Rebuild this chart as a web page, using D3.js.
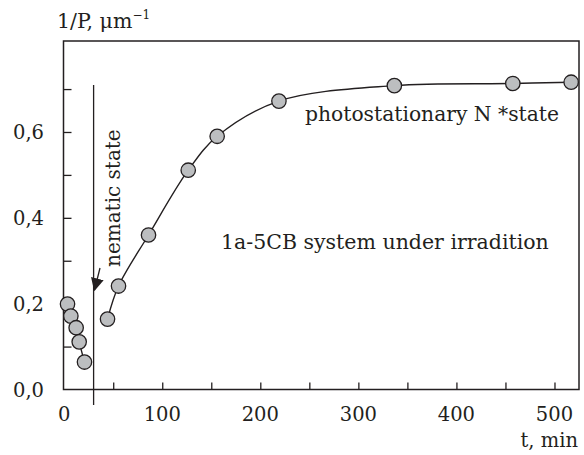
<!DOCTYPE html>
<html>
<head>
<script src="https://cdn.jsdelivr.net/npm/d3@7"></script>
<style>
  body { margin: 0; background: #fff; }
  text { font-family: "DejaVu Serif", serif; fill: #231f20; }
</style>
</head>
<body>
<div id="chart"></div>
<script>
// early points (before the nematic state) and points under irradiation
var timeEarly  = [3.4, 6.8, 12.2, 15.3, 20.7];
var valueEarly = [0.199, 0.171, 0.144, 0.111, 0.064];
var timeIrr  = [44.2, 55.4, 86, 126.5, 156, 219, 336.7, 457.5, 517];
var valueIrr = [0.164, 0.241, 0.360, 0.511, 0.590, 0.672, 0.708, 0.713, 0.716];

var xTicks = [0, 100, 200, 300, 400, 500];
var xMinor = [50, 100, 150, 200, 250, 300, 350, 400, 450, 500];
var yTicks = [0, 0.2, 0.4, 0.6];
var yMinor = [0.1, 0.2, 0.3, 0.4, 0.5, 0.6, 0.7];
var nematicTime = 30;

var W = 584, H = 455;
var pLeft = 63.5, pRight = 579, pTop = 41, pBottom = 389.5;

var x = d3.scaleLinear().domain([-0.7, 525]).range([pLeft, pRight]);
var y = d3.scaleLinear().domain([0, 0.812]).range([pBottom, pTop]);

var svg = d3.select("#chart").append("svg")
    .attr("width", W).attr("height", H);

var ink = "#231f20";

// inward ticks
svg.append("g")
    .attr("transform", "translate(0," + pBottom + ")")
    .call(d3.axisTop(x).tickValues(xMinor).tickSize(7).tickFormat(""))
    .call(function(g) { g.select(".domain").remove(); })
    .selectAll("line").attr("stroke", ink).attr("stroke-width", 1.3);

svg.append("g")
    .attr("transform", "translate(" + pLeft + ",0)")
    .call(d3.axisRight(y).tickValues(yMinor).tickSize(8).tickFormat(""))
    .call(function(g) { g.select(".domain").remove(); })
    .selectAll("line").attr("stroke", ink).attr("stroke-width", 1.3);

// frame
svg.append("rect")
    .attr("x", pLeft).attr("y", pTop)
    .attr("width", pRight - pLeft).attr("height", pBottom - pTop)
    .attr("fill", "none").attr("stroke", ink).attr("stroke-width", 1.5);

// tick labels
svg.selectAll(".xl").data(xTicks).enter().append("text")
    .attr("x", function(d) { return x(d); })
    .attr("y", 421)
    .attr("text-anchor", "middle")
    .attr("font-size", 19.5)
    .text(function(d) { return d; });

svg.selectAll(".yl").data(yTicks).enter().append("text")
    .attr("x", 44)
    .attr("y", function(d) { return y(d) + 7; })
    .attr("text-anchor", "end")
    .attr("font-size", 19.5)
    .text(function(d) { return d3.format(".1f")(d).replace(".", ","); });

// axis titles
var yt = svg.append("text").attr("x", 57).attr("y", 28).attr("font-size", 20.5);
yt.append("tspan").text("1/P, \u03bcm");
yt.append("tspan").attr("dy", -9).attr("font-size", 12).text("\u22121");

svg.append("text").attr("x", 578).attr("y", 447)
    .attr("text-anchor", "end").attr("font-size", 19.5)
    .text("t, min");

// nematic marker
svg.append("line")
    .attr("x1", x(nematicTime)).attr("x2", x(nematicTime))
    .attr("y1", 85).attr("y2", 405)
    .attr("stroke", ink).attr("stroke-width", 1.3);

svg.append("text")
    .attr("transform", "translate(120,267) rotate(-90)")
    .attr("font-size", 20)
    .text("nematic state");

svg.append("defs").append("marker")
    .attr("id", "arr").attr("viewBox", "0 0 10 10")
    .attr("refX", 9).attr("refY", 5)
    .attr("markerWidth", 13).attr("markerHeight", 13)
    .attr("markerUnits", "userSpaceOnUse")
    .attr("orient", "auto")
  .append("path").attr("d", "M0,0L10,5L0,10z").attr("fill", ink);

svg.append("line")
    .attr("x1", 100).attr("y1", 268)
    .attr("x2", 94.5).attr("y2", 290)
    .attr("stroke", ink).attr("stroke-width", 1.3)
    .attr("marker-end", "url(#arr)");

// curves
var line = d3.line()
    .x(function(d) { return x(d[0]); })
    .y(function(d) { return y(d[1]); })
    .curve(d3.curveCatmullRom.alpha(0.5));

var early = d3.zip(timeEarly, valueEarly);
var irr = d3.zip(timeIrr, valueIrr);

[early, irr].forEach(function(s) {
    svg.append("path").datum(s)
        .attr("d", line)
        .attr("fill", "none")
        .attr("stroke", ink)
        .attr("stroke-width", 1.4);
});

svg.selectAll("circle")
    .data(early.concat(irr))
    .enter().append("circle")
    .attr("cx", function(d) { return x(d[0]); })
    .attr("cy", function(d) { return y(d[1]); })
    .attr("r", 7.2)
    .attr("fill", "#bcbec0")
    .attr("stroke", ink)
    .attr("stroke-width", 1.3);

// annotations
svg.append("text").attr("x", 305).attr("y", 121)
    .attr("font-size", 20.3).text("photostationary N *state");
svg.append("text").attr("x", 221).attr("y", 249)
    .attr("font-size", 20.5).text("1a-5CB system under irradition");
</script>
</body>
</html>
